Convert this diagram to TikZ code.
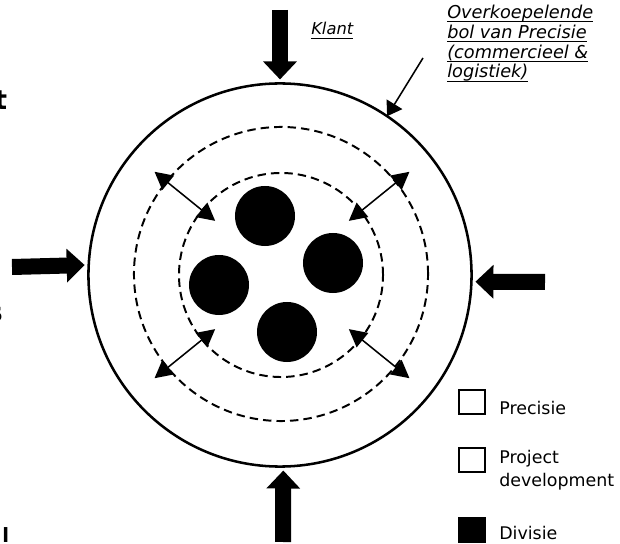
\documentclass[tikz,border=0pt]{standalone}
\usepackage{fontspec}
\setmainfont{DejaVu Sans}
\usetikzlibrary{arrows.meta,calc}

\newcommand{\ondstreep}[1]{\setbox0\hbox{#1}\rlap{\rule[-2.6pt]{\wd0}{0.8pt}}\box0}

\tikzset{
  ring/.style={circle, draw, inner sep=0pt, outer sep=0pt},
  schil/.style={ring, dash pattern=on 6pt off 3.6pt, line width=1.4pt},
  divisie/.style={circle, fill=black, inner sep=0pt, minimum size=1.5cm},
  blokpijl/.style={line width=0.4cm, -{Triangle[width=0.82cm,length=0.45cm]}, shorten >=0.1cm},
  dubbel/.style={line width=1.1pt, {Triangle[length=12.5pt,width=13pt]}-{Triangle[length=12.5pt,width=13pt]}},
  wijzer/.style={line width=1.1pt, -{Triangle[length=10pt,width=13pt]}},
  opschrift/.style={font=\fontsize{12.6}{14.2}\selectfont\itshape, align=left, inner sep=0pt, anchor=base west},
  legvak/.style={draw, line width=1.6pt, minimum width=0.65cm, minimum height=0.6cm, inner sep=0pt},
  legtekst/.style={font=\fontsize{12.4}{17}\selectfont, align=left, inner sep=0pt, anchor=base west},
  stukje/.style={inner sep=0pt, font=\fontsize{19}{19}\selectfont\bfseries}
}

\begin{document}
\begin{tikzpicture}[x=0.025cm, y=-0.025cm]
    \useasboundingbox (0,0) rectangle (620,544);

    % Precisie (outer ring) and the two dashed rings
    \node[ring, line width=1.8pt, minimum size=9.575cm] (precisie) at (280,275) {};
    \node[schil, minimum size=7.35cm] (buiten) at (281,274) {};
    \node[schil, minimum size=5.1cm] (binnen) at (281,275) {};

    % Divisies
    \foreach \pos [count=\i] in {(265,216),(333,263),(219,285),(287,332)} {
        \node[divisie] (div\i) at \pos {};
    }

    % Arrows between the dashed rings
    \coordinate (mid) at (282,275);
    \foreach \a in {39,141,219,321} {
        \draw[dubbel] ($(mid)+(\a:86)$) -- ($(mid)+(\a:164)$);
    }

    % Klant arrows
    \coordinate (vanBoven) at (280,10);
    \coordinate (vanOnder) at (283,542);
    \coordinate (vanLinks) at (12,267);
    \coordinate (vanRechts) at (545,282);
    \draw[blokpijl] (vanBoven) -- (precisie.north);
    \draw[blokpijl] (vanOnder) -- (precisie.-89);
    \draw[blokpijl] (vanLinks) -- (precisie.177.6);
    \draw[blokpijl] (vanRechts) -- (precisie.-2.1);

    % Labels
    \node[opschrift, font=\fontsize{11.6}{13}\selectfont\itshape] (klant) at (311,35) {\ondstreep{Klant}};
    \node[opschrift] (overkoepelend) at (447,78)
        {\ondstreep{Overkoepelende}\\\ondstreep{bol van Precisie}\\\ondstreep{(commercieel \&}\\\ondstreep{logistiek)}};
    \coordinate (wijzerStart) at (423,58);
    \draw[wijzer] (wijzerStart) -- (precisie.56.6);

    % Legend
    \node[legvak] (vakPrecisie) at (472,402) {};
    \node[legtekst] (tekstPrecisie) at (499,415) {Precisie};
    \node[legvak] (vakProject) at (472,460) {};
    \node[legtekst] (tekstProject) at (499,487) {Project\\development};
    \node[legvak, fill=black] (vakDivisie) at (472,530) {};
    \node[legtekst] (tekstDivisie) at (499,540) {Divisie};

    % Text cut off at the left edge
    \node[stukje, anchor=base east] (stuk1) at (7.5,110) {t};
    \node[stukje, anchor=base east] (stuk2) at (3,322) {s};
    \node[stukje, anchor=north west, font=\fontsize{14}{14}\selectfont\bfseries] (stuk3) at (2,527) {l};
\end{tikzpicture}
\end{document}
